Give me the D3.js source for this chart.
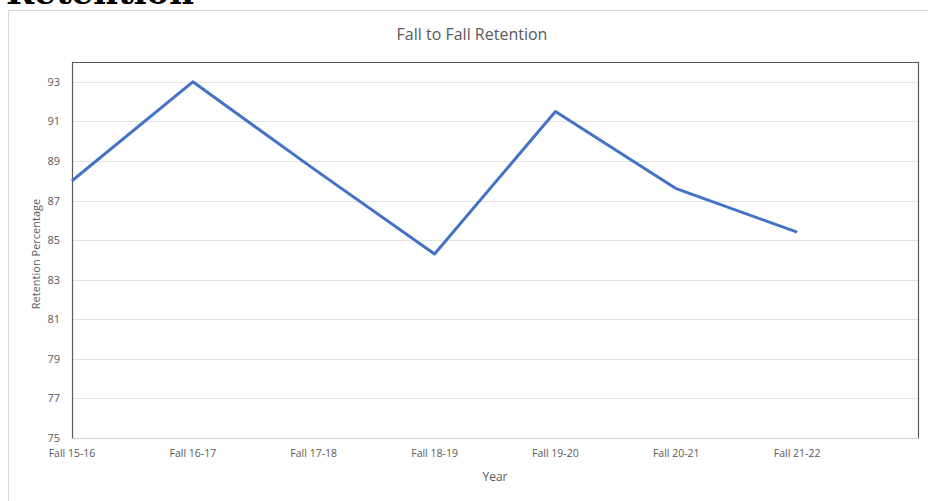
<!DOCTYPE html>
<html lang="en">
<head>
  <meta charset="UTF-8">
  <title>Fall to Fall Retention</title>
  <script src="https://d3js.org/d3.v7.min.js"></script>
  <style>
    body { margin: 0; padding: 0; background: #fff; }
    svg { display: block; font-family: "Open Sans", "Noto Sans", sans-serif; }
  </style>
</head>
<body>
  <svg id="chart"></svg>
  <script>
    // chart data
    const years = ["Fall 15-16", "Fall 16-17", "Fall 17-18", "Fall 18-19", "Fall 19-20", "Fall 20-21", "Fall 21-22"];
    const retention = [88.0, 93.0, 88.6, 84.3, 91.5, 87.6, 85.4];
    const yTicks = [75, 77, 79, 81, 83, 85, 87, 89, 91, 93];

    const width = 928, height = 501;
    const margin = { top: 62, right: 10, bottom: 63, left: 72 };

    const svg = d3.select("#chart")
      .attr("width", width)
      .attr("height", height);

    // cut-off heading above the chart box (only its bottom edge shows)
    svg.append("text")
      .attr("x", 6)
      .attr("y", 4)
      .attr("font-family", "DejaVu Serif")
      .attr("font-weight", "bold")
      .attr("font-size", 34)
      .attr("fill", "#000")
      .text("Retention");

    // outer chart box
    svg.append("rect")
      .attr("x", 8.5)
      .attr("y", 10.5)
      .attr("width", width + 10)
      .attr("height", height)
      .attr("fill", "#fff")
      .attr("stroke", "#d9d9d9");

    const x = d3.scaleLinear()
      .domain([0, years.length])
      .range([margin.left, width - margin.right]);

    const y = d3.scaleLinear()
      .domain([75, 94])
      .range([height - margin.bottom, margin.top]);

    // gridlines
    svg.append("g")
      .selectAll("line")
      .data(yTicks.slice(1))
      .join("line")
      .attr("x1", margin.left)
      .attr("x2", width - margin.right)
      .attr("y1", d => Math.round(y(d)) + 0.5)
      .attr("y2", d => Math.round(y(d)) + 0.5)
      .attr("stroke", "#e3e3e3")
      .attr("stroke-width", 1);

    // y axis labels
    svg.append("g")
      .selectAll("text")
      .data(yTicks)
      .join("text")
      .attr("x", margin.left - 12)
      .attr("y", d => y(d) + 4)
      .attr("text-anchor", "end")
      .attr("font-size", 11)
      .attr("fill", "#595959")
      .text(d => d);

    // x axis labels
    svg.append("g")
      .selectAll("text")
      .data(years)
      .join("text")
      .attr("x", (d, i) => x(i))
      .attr("y", height - margin.bottom + 19)
      .attr("text-anchor", "middle")
      .attr("font-size", 10.5)
      .attr("fill", "#595959")
      .text(d => d);

    // plot frame
    const x0 = Math.round(x.range()[0]) + 0.5, x1 = Math.round(x.range()[1]) + 0.5;
    const yb = Math.round(y.range()[0]) + 0.5, yt = Math.round(y.range()[1]) + 0.5;
    svg.append("path")
      .attr("d", `M${x0},${yb}V${yt}H${x1}V${yb}`)
      .attr("fill", "none")
      .attr("stroke", "#595959")
      .attr("stroke-width", 1.2);
    svg.append("line")
      .attr("x1", x0).attr("x2", x1)
      .attr("y1", yb).attr("y2", yb)
      .attr("stroke", "#cfcfcf")
      .attr("stroke-width", 1.2);

    // data line
    const line = d3.line()
      .x((d, i) => x(i))
      .y(d => y(d));

    svg.append("path")
      .datum(retention)
      .attr("d", line)
      .attr("fill", "none")
      .attr("stroke", "#4472C4")
      .attr("stroke-width", 3)
      .attr("stroke-linejoin", "round");

    // titles
    svg.append("text")
      .attr("x", 472)
      .attr("y", 40)
      .attr("text-anchor", "middle")
      .attr("font-size", 16)
      .attr("fill", "#595959")
      .text("Fall to Fall Retention");

    svg.append("text")
      .attr("x", 495)
      .attr("y", 481)
      .attr("text-anchor", "middle")
      .attr("font-size", 12)
      .attr("fill", "#595959")
      .text("Year");

    svg.append("text")
      .attr("transform", `translate(40, ${(margin.top + height - margin.bottom) / 2 + 4}) rotate(-90)`)
      .attr("text-anchor", "middle")
      .attr("font-size", 11)
      .attr("fill", "#595959")
      .text("Retention Percentage");
  </script>
</body>
</html>
